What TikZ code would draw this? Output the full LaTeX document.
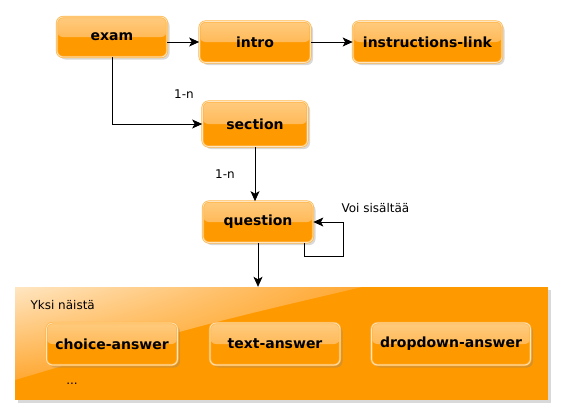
\documentclass[tikz,border=0pt]{standalone}
\usepackage{fontspec}
\setmainfont{DejaVu Sans}
\usetikzlibrary{arrows.meta,shadows,shadings}

\definecolor{boxorange}{HTML}{FF9900}
\definecolor{boxlight}{HTML}{FFCB7E}
\definecolor{boxedge}{HTML}{FFB547}
\definecolor{boxpale}{HTML}{FFE6C2}
\definecolor{boxglow}{HTML}{FFA833}

\tikzset{
	entity/.style={rectangle, rounded corners=6pt, fill=boxorange,
		draw=boxedge, line width=0.7pt, double=boxpale, double distance=0.7pt,
		path picture={\shade[top color=boxlight, bottom color=boxglow]
			(path picture bounding box.north west) rectangle (path picture bounding box.east);},
		drop shadow={shadow xshift=2.5pt, shadow yshift=-2.5pt, opacity=0.3},
		font=\bfseries\fontsize{14}{16}\selectfont, minimum height=41pt, inner sep=0pt},
	group/.style={rectangle, fill=boxorange, minimum width=533pt, minimum height=113pt,
		drop shadow={shadow xshift=2.5pt, shadow yshift=-2.5pt, opacity=0.3}},
	link/.style={-{Stealth[length=10pt,width=9pt,inset=2.5pt]}, line width=0.8pt},
	note/.style={font=\fontsize{12}{14}\selectfont}
}

\begin{document}
\begin{tikzpicture}[x=1pt,y=-1pt]

	\useasboundingbox (0,0) rectangle (564,418);

	\node[group] (answers) at (281.5,343.5) {};
	\shade[upper left=boxpale, upper right=boxglow, lower left=boxglow, lower right=boxorange]
		(15,287) -- (362,287) .. controls (200,325) .. (15,380) -- cycle;
	\node[note, anchor=west] (onlyone) at (27,305) {Yksi näistä};
	\node[note] (more) at (72,384) {...};

	\node[entity, minimum width=110pt, minimum height=40pt] (exam) at (112,37) {exam};
	\node[entity, minimum width=111pt] (intro) at (255,42) {intro};
	\node[entity, minimum width=149pt] (instructions) at (427.5,42) {instructions-link};
	\node[entity, minimum width=105pt, minimum height=45pt] (section) at (255,124) {section};
	\node[entity, minimum width=110pt] (question) at (258,222) {question};

	\node[entity, minimum width=131pt, minimum height=42pt] (choice) at (112,344) {choice-answer};
	\node[entity, minimum width=130pt, minimum height=42pt] (text) at (275,344) {text-answer};
	\node[entity, minimum width=159pt, minimum height=42pt] (dropdown) at (451,344) {dropdown-answer};

	\draw[link] (exam.east |- intro.west) -- (intro.west);
	\draw[link] (intro) -- (instructions);
	\draw[link] (exam.south) |- (section.west);
	\node[note] (examsections) at (184,94) {1-n};

	\draw[link] (section.south) -- (section.south |- question.north);
	\node[note] (sectionquestions) at (225,174) {1-n};

	\coordinate (loop) at (343,256);
	\draw[link] ([xshift=46pt]question.south) |- (loop) |- (question.east);
	\node[note, anchor=west] (contains) at (338,208) {Voi sisältää};

	\draw[link] (question.south) -- (question.south |- answers.north);

\end{tikzpicture}
\end{document}
